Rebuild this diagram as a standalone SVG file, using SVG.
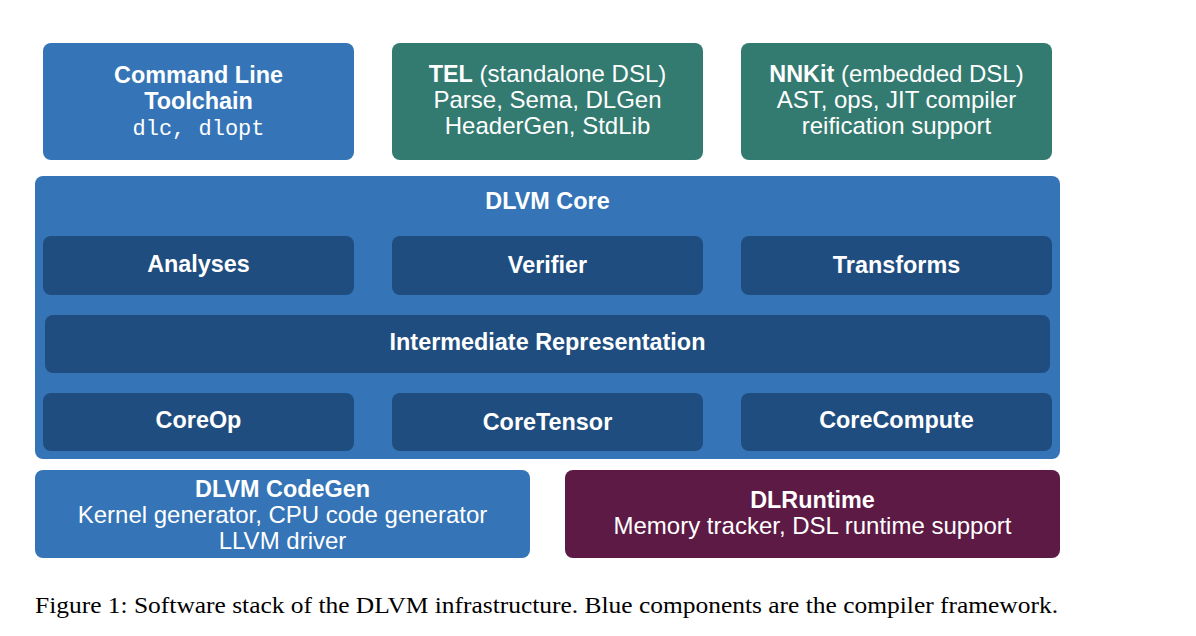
<svg xmlns="http://www.w3.org/2000/svg" width="1196" height="636" viewBox="0 0 1196 636">
<style>
.blue{fill:#3474B7}
.dark{fill:#1F4D7F}
.teal{fill:#337A70}
.maroon{fill:#5C1A45}
text{font-family:"Liberation Sans",Arial,sans-serif;font-size:24px;fill:#ffffff;text-anchor:middle}
.b{font-weight:bold;font-size:23.4px}
.mono{font-family:"Liberation Mono","Courier New",monospace;font-size:22px}
.cap{font-family:"Liberation Serif","Times New Roman",serif;font-size:24px;fill:#000000;text-anchor:start}
</style>
<rect width="1196" height="636" fill="#ffffff"/>
<g id="cmdline">
<rect class="blue" x="43" y="43" width="311" height="117" rx="8"/>
<text class="b" x="198.5" y="83">Command Line</text>
<text class="b" x="198.5" y="109">Toolchain</text>
<text class="mono" x="198.5" y="135">dlc, dlopt</text>
</g>
<g id="tel">
<rect class="teal" x="392" y="43" width="311" height="117" rx="8"/>
<text x="547.5" y="82"><tspan class="b">TEL</tspan> (standalone DSL)</text>
<text x="547.5" y="108">Parse, Sema, DLGen</text>
<text x="547.5" y="134">HeaderGen, StdLib</text>
</g>
<g id="nnkit">
<rect class="teal" x="741" y="43" width="311" height="117" rx="8"/>
<text x="896.5" y="82"><tspan class="b">NNKit</tspan> (embedded DSL)</text>
<text x="896.5" y="108">AST, ops, JIT compiler</text>
<text x="896.5" y="134">reification support</text>
</g>
<g id="core">
<rect class="blue" x="35" y="176" width="1025" height="283" rx="8"/>
<text class="b" x="547.5" y="209">DLVM Core</text>
</g>
<g id="analyses">
<rect class="dark" x="43" y="236" width="311" height="59" rx="8"/>
<text class="b" x="198.5" y="272">Analyses</text>
</g>
<g id="verifier">
<rect class="dark" x="392" y="236" width="311" height="59" rx="8"/>
<text class="b" x="547.5" y="273">Verifier</text>
</g>
<g id="transforms">
<rect class="dark" x="741" y="236" width="311" height="59" rx="8"/>
<text class="b" x="896.5" y="273">Transforms</text>
</g>
<g id="ir">
<rect class="dark" x="45" y="315" width="1005" height="58" rx="8"/>
<text class="b" x="547.5" y="350">Intermediate Representation</text>
</g>
<g id="coreop">
<rect class="dark" x="43" y="393" width="311" height="58" rx="8"/>
<text class="b" x="198.5" y="428">CoreOp</text>
</g>
<g id="coretensor">
<rect class="dark" x="392" y="393" width="311" height="58" rx="8"/>
<text class="b" x="547.5" y="430">CoreTensor</text>
</g>
<g id="corecompute">
<rect class="dark" x="741" y="393" width="311" height="58" rx="8"/>
<text class="b" x="896.5" y="428">CoreCompute</text>
</g>
<g id="codegen">
<rect class="blue" x="35" y="470" width="495" height="88" rx="8"/>
<text class="b" x="282.5" y="497">DLVM CodeGen</text>
<text x="282.5" y="523">Kernel generator, CPU code generator</text>
<text x="282.5" y="549">LLVM driver</text>
</g>
<g id="runtime">
<rect class="maroon" x="565" y="470" width="495" height="88" rx="8"/>
<text class="b" x="812.5" y="508">DLRuntime</text>
<text x="812.5" y="534">Memory tracker, DSL runtime support</text>
</g>
<g id="connectors"></g>
<text class="cap" x="35" y="613" textLength="1023" lengthAdjust="spacingAndGlyphs">Figure 1: Software stack of the DLVM infrastructure. Blue components are the compiler framework.</text>
</svg>
